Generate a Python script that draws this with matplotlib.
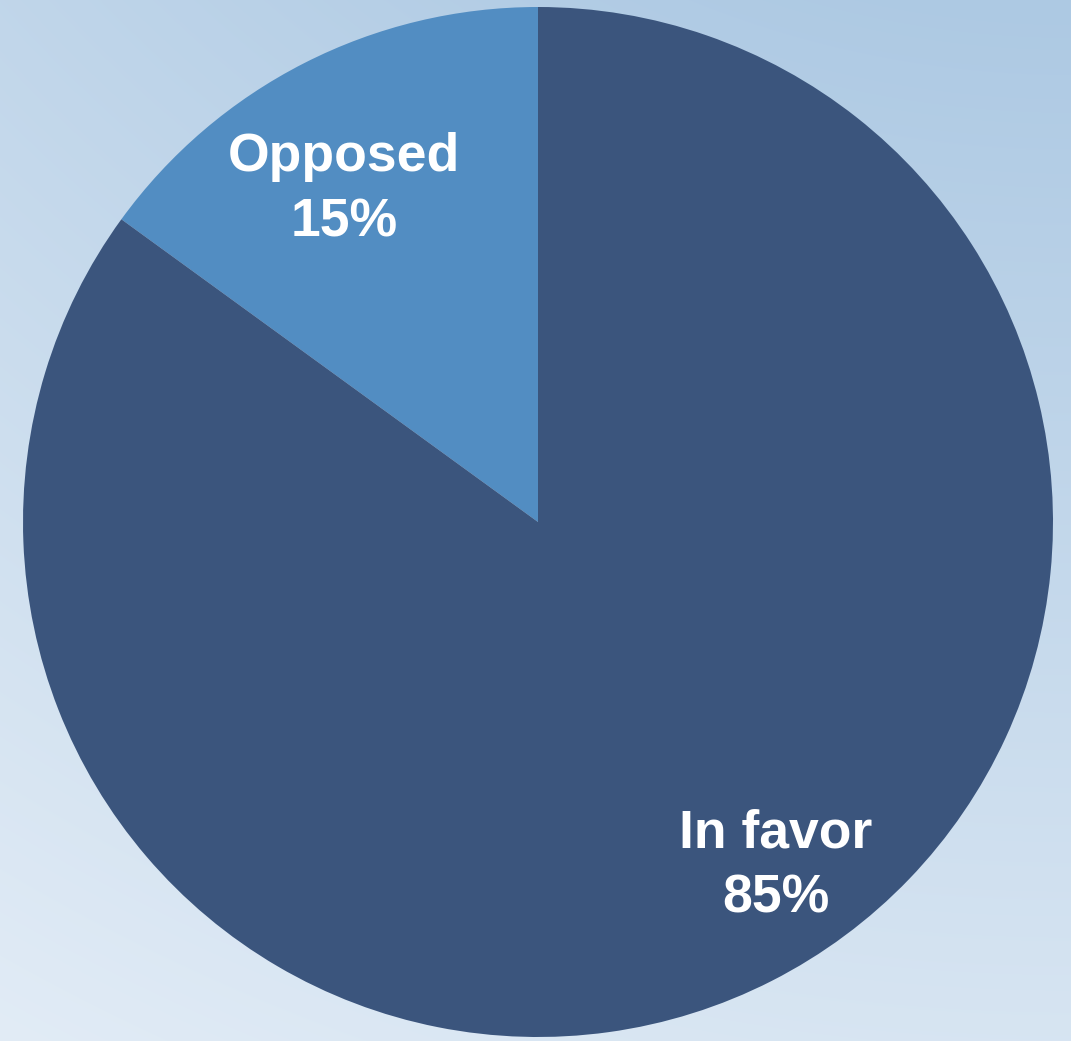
import numpy as np
import matplotlib
matplotlib.use("Agg")
import matplotlib.pyplot as plt
from matplotlib.colors import to_rgb

# survey result
labels = ["Opposed", "In favor"]
shares = [15, 85]
colors = ["#528DC2", "#3B557D"]

W, H, DPI = 1071, 1041, 100
fig = plt.figure(figsize=(W / DPI, H / DPI), dpi=DPI)

# soft radial background, darkest towards the top right
bg = fig.add_axes([0, 0, 1, 1])
yy, xx = np.mgrid[0:H, 0:W]
d = np.hypot(xx - 1071, yy + 937)
t = np.clip((d - 937) / (2249 - 937), 0, 1)[..., None]
c0 = np.array(to_rgb("#ADC9E3"))
c1 = np.array(to_rgb("#E2ECF6"))
bg.imshow(c0 + (c1 - c0) * t, aspect="auto", interpolation="bilinear")
bg.axis("off")

ax = fig.add_axes([23 / W, 4 / H, 1030 / W, 1030 / H])
wedges, _ = ax.pie(shares, colors=colors, startangle=90, counterclock=True,
                   radius=1, wedgeprops=dict(linewidth=0))
ax.set_xlim(-1, 1)
ax.set_ylim(-1, 1)
ax.set_aspect("equal")
ax.axis("off")

# label positions inside each wedge (angle in degrees, fraction of radius)
label_pos = [(120.3, 0.747), (304.7, 0.812)]
for lab, val, (a, r) in zip(labels, shares, label_pos):
    ang = np.deg2rad(a)
    ax.text(r * np.cos(ang), r * np.sin(ang), f"{lab}\n{val}%",
            ha="center", va="center", color="white", fontsize=38.5,
            fontweight="bold", family="Liberation Sans", linespacing=1.4)

fig.savefig("out.png", dpi=DPI)
